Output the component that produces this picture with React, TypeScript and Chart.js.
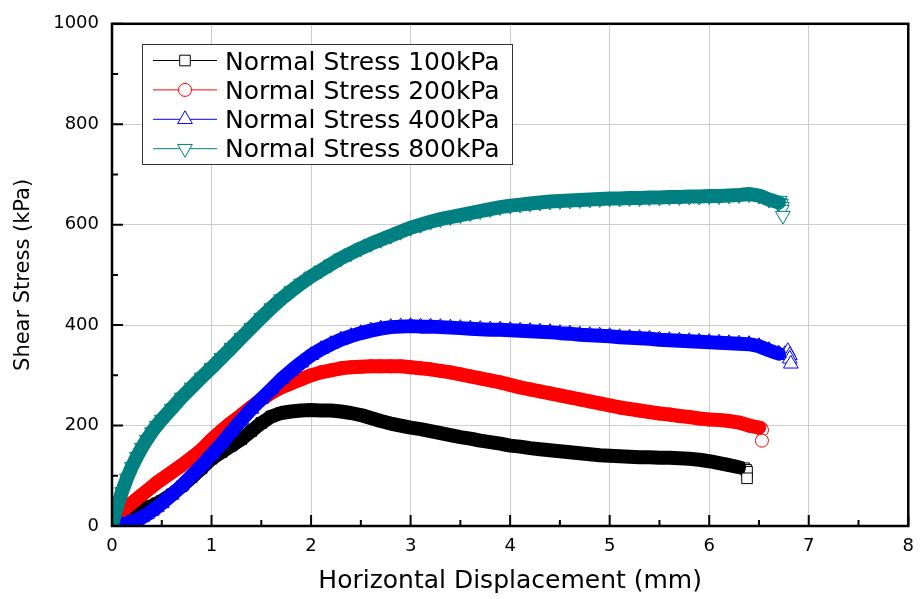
import React, { useEffect, useRef } from 'react';
import { Chart, registerables } from 'chart.js';

Chart.register(...registerables);

// ---------------- data ----------------
const DISPLACEMENT = [0, 0.05, 0.1, 0.15, 0.2, 0.25, 0.3, 0.35, 0.4, 0.45, 0.5,
  0.6, 0.7, 0.8, 0.9, 1.0, 1.1, 1.2, 1.3, 1.4, 1.5, 1.6, 1.7, 1.8, 1.9, 2.0,
  2.1, 2.2, 2.3, 2.4, 2.5, 2.6, 2.7, 2.8, 2.9, 3.0,
  3.1, 3.2, 3.3, 3.4, 3.5, 3.6, 3.7, 3.8, 3.9, 4.0,
  4.1, 4.2, 4.3, 4.4, 4.5, 4.6, 4.7, 4.8, 4.9, 5.0,
  5.1, 5.2, 5.3, 5.4, 5.5, 5.6, 5.7, 5.8, 5.9, 6.0,
  6.1, 6.2, 6.3, 6.4, 6.5, 6.6, 6.7];

const SHEAR_100 = [null, null, 25, 28, 30, 32, 34, 37, 40, 45, 50,
  63, 79, 97, 115, 134, 147, 160, 173, 189, 205, 218, 225, 228, 230, 231,
  230, 230, 228, 225, 221, 215, 209, 204, 200, 196,
  193, 189, 185, 181, 177, 174, 170, 167, 164, 160,
  158, 155, 153, 151, 149, 147, 145, 143, 141, 140,
  139, 138, 137, 137, 136, 136, 135, 134, 132, 129,
  125, 121, 117, null, null, null, null];
const END_100_X = [6.35, 6.37, 6.38, 6.38];
const END_100_Y = [115, 112, 108, 95];

const SHEAR_200 = [null, null, 28, 38, 46, 54, 62, 70, 78, 86, 93,
  107, 121, 136, 152, 172, 190, 206, 221, 237, 252, 265, 276, 284, 292, 300,
  306, 310, 314, 316, 317, 318, 318, 318, 318, 316,
  314, 312, 309, 306, 302, 298, 294, 290, 286, 281,
  276, 272, 268, 264, 260, 256, 252, 248, 244, 240,
  236, 233, 230, 227, 224, 222, 219, 217, 214, 212,
  211, 209, 206, 200, 196, null, null];
const END_200_X = [6.52, 6.53, 6.53];
const END_200_Y = [195, 191, 170];

const SHEAR_400 = [null, 0, 2, 5, 8, 12, 17, 23, 30, 37, 45,
  62, 80, 100, 120, 142, 164, 188, 211, 233, 253, 272, 292, 309, 325, 340,
  352, 362, 371, 378, 384, 389, 393, 396, 397, 398,
  397, 397, 396, 395, 394, 393, 392, 391, 391, 390,
  389, 388, 387, 386, 384, 383, 381, 380, 379, 378,
  376, 375, 374, 373, 371, 370, 369, 368, 367, 366,
  365, 364, 363, 362, 358, 350, 343];
const END_400_X = [6.76, 6.79, 6.81, 6.81, 6.82];
const END_400_Y = [342, 348, 340, 333, 323];

const SHEAR_800 = [3, 38, 68, 95, 118, 138, 156, 172, 187, 200, 212,
  234, 256, 276, 296, 315, 335, 355, 375, 395, 415, 434, 452, 468, 483, 497,
  509, 521, 533, 543, 553, 562, 570, 578, 586, 594,
  600, 606, 611, 615, 619, 623, 627, 631, 635, 638,
  640, 642, 644, 646, 647, 648, 649, 650, 651, 652,
  652, 653, 653, 654, 654, 655, 655, 656, 656, 657,
  657, 658, 659, 661, 658, 650, 644];
const END_800_X = [6.71, 6.72, 6.73, 6.73, 6.74];
const END_800_Y = [648, 642, 636, 630, 618];

const SERIES_LABELS = ['Normal Stress 100kPa', 'Normal Stress 200kPa', 'Normal Stress 400kPa', 'Normal Stress 800kPa'];
const X_TICKS = [0, 1, 2, 3, 4, 5, 6, 7, 8];
const X_MINOR = [0.5, 1.5, 2.5, 3.5, 4.5, 5.5, 6.5, 7.5];
const Y_TICKS = [0, 200, 400, 600, 800, 1000];
const Y_MINOR = [100, 300, 500, 700, 900];
const X_TITLE = 'Horizontal Displacement (mm)';
const Y_TITLE = 'Shear Stress (kPa)';

// ---------------- styles ----------------
const FONT = '"DejaVu Sans", "Liberation Sans", sans-serif';
const COLORS = ['#000000', '#ff0000', '#0000ff', '#008080'];
const STYLES = ['rect', 'circle', 'triangle', 'triangle'];
const ROTATIONS = [0, 0, 0, 180];
const RADII = [7.5, 6.5, 8.5, 8.5];
const DRAW_ORDER = [3, 2, 1, 0];

function toPoints(xs: number[], ys: (number | null)[]) {
  const pts: { x: number; y: number }[] = [];
  xs.forEach((x, i) => {
    const y = ys[i];
    if (y !== null && y !== undefined) pts.push({ x, y });
  });
  return pts;
}

function drawMarker(ctx: CanvasRenderingContext2D, style: string, rot: number, x: number, y: number, r: number, color: string) {
  ctx.save();
  ctx.fillStyle = '#ffffff';
  ctx.strokeStyle = color;
  ctx.lineWidth = 1;
  ctx.beginPath();
  if (style === 'rect') {
    const s = r * Math.SQRT1_2;
    ctx.rect(x - s, y - s, 2 * s, 2 * s);
  } else if (style === 'circle') {
    ctx.arc(x, y, r, 0, Math.PI * 2);
  } else {
    let a = (rot * Math.PI) / 180;
    ctx.moveTo(x + Math.sin(a) * r, y - Math.cos(a) * r);
    a += (2 * Math.PI) / 3;
    ctx.lineTo(x + Math.sin(a) * r, y - Math.cos(a) * r);
    a += (2 * Math.PI) / 3;
    ctx.lineTo(x + Math.sin(a) * r, y - Math.cos(a) * r);
    ctx.closePath();
  }
  ctx.fill();
  ctx.stroke();
  ctx.restore();
}

const legendPlugin = {
  id: 'boxLegend',
  afterDatasetsDraw(chart: any) {
    const { ctx, chartArea } = chart;
    const left = Math.round(chartArea.left + 30);
    const top = Math.round(chartArea.top + 20);
    const w = 370;
    const h = 120;
    ctx.save();
    ctx.fillStyle = '#ffffff';
    ctx.fillRect(left, top, w, h);
    ctx.strokeStyle = '#333333';
    ctx.lineWidth = 1;
    ctx.strokeRect(left + 0.5, top + 0.5, w, h);
    SERIES_LABELS.forEach((label, i) => {
      const ly = top + 16.5 + i * 29.4;
      ctx.strokeStyle = COLORS[i];
      ctx.lineWidth = 1;
      ctx.beginPath();
      ctx.moveTo(left + 11, ly);
      ctx.lineTo(left + 75, ly);
      ctx.stroke();
      drawMarker(ctx, STYLES[i], ROTATIONS[i], left + 43, ly, RADII[i], COLORS[i]);
      ctx.fillStyle = '#000000';
      ctx.font = '25px ' + FONT;
      ctx.textBaseline = 'alphabetic';
      ctx.textAlign = 'left';
      ctx.fillText(label, left + 83, top + 25.7 + i * 29.2);
    });
    ctx.restore();
  },
};

const framePlugin = {
  id: 'frameTicks',
  afterDraw(chart: any) {
    const { ctx, chartArea: a, scales } = chart;
    const xs = scales.x;
    const ys = scales.y;
    ctx.save();
    ctx.strokeStyle = '#000000';
    ctx.lineWidth = 2;
    ctx.beginPath();
    X_TICKS.forEach((v) => {
      const px = xs.getPixelForValue(v);
      ctx.moveTo(px, a.bottom);
      ctx.lineTo(px, a.bottom - 11);
    });
    X_MINOR.forEach((v) => {
      const px = xs.getPixelForValue(v);
      ctx.moveTo(px, a.bottom);
      ctx.lineTo(px, a.bottom - 6);
    });
    Y_TICKS.forEach((v) => {
      const py = ys.getPixelForValue(v);
      ctx.moveTo(a.left, py);
      ctx.lineTo(a.left + 11, py);
    });
    Y_MINOR.forEach((v) => {
      const py = ys.getPixelForValue(v);
      ctx.moveTo(a.left, py);
      ctx.lineTo(a.left + 6, py);
    });
    ctx.stroke();
    ctx.lineWidth = 2.5;
    ctx.strokeRect(a.left, a.top, a.right - a.left, a.bottom - a.top);
    ctx.restore();
  },
};

export default function App() {
  const canvasRef = useRef<HTMLCanvasElement | null>(null);

  useEffect(() => {
    const canvas = canvasRef.current;
    if (!canvas) return;
    Chart.defaults.font.family = FONT;

    const series = [
      { ys: SHEAR_100, ex: END_100_X, ey: END_100_Y },
      { ys: SHEAR_200, ex: END_200_X, ey: END_200_Y },
      { ys: SHEAR_400, ex: END_400_X, ey: END_400_Y },
      { ys: SHEAR_800, ex: END_800_X, ey: END_800_Y },
    ];

    const datasets: any[] = [];
    series.forEach((s, i) => {
      datasets.push({
        label: SERIES_LABELS[i],
        data: toPoints(DISPLACEMENT, s.ys),
        showLine: true,
        borderColor: COLORS[i],
        backgroundColor: COLORS[i],
        borderWidth: 14,
        borderJoinStyle: 'round',
        borderCapStyle: 'round',
        tension: 0,
        pointStyle: STYLES[i],
        pointRotation: ROTATIONS[i],
        pointRadius: RADII[i],
        pointBorderColor: COLORS[i],
        pointBackgroundColor: 'rgba(255,255,255,0)',
        pointBorderWidth: 1,
        order: DRAW_ORDER[i],
      });
      datasets.push({
        label: SERIES_LABELS[i] + ' end',
        data: toPoints(s.ex, s.ey),
        showLine: false,
        pointStyle: STYLES[i],
        pointRotation: ROTATIONS[i],
        pointRadius: RADII[i],
        pointBorderColor: COLORS[i],
        pointBackgroundColor: '#ffffff',
        pointBorderWidth: 1,
        order: DRAW_ORDER[i],
      });
    });

    const chart = new Chart(canvas, {
      type: 'scatter',
      data: { datasets },
      options: {
        responsive: false,
        devicePixelRatio: 1,
        animation: false,
        layout: { padding: { top: 17, right: 10, left: 0, bottom: 0 } },
        plugins: {
          legend: { display: false },
          tooltip: { enabled: false },
        },
        scales: {
          x: {
            type: 'linear',
            min: 0,
            max: 8,
            afterBuildTicks: (scale: any) => {
              scale.ticks = X_TICKS.map((v) => ({ value: v }));
            },
            afterFit: (scale: any) => {
              scale.height = 73;
            },
            border: { display: false },
            grid: { color: '#cccccc', lineWidth: 1, drawTicks: false },
            ticks: {
              color: '#000000',
              padding: 10,
              font: { size: 18, family: FONT },
              maxRotation: 0,
              callback: (v: any) => String(v),
            },
            title: {
              display: true,
              text: X_TITLE,
              color: '#000000',
              font: { size: 25, family: FONT },
              padding: { top: 0, bottom: 3 },
            },
          },
          y: {
            type: 'linear',
            min: 0,
            max: 1000,
            afterBuildTicks: (scale: any) => {
              scale.ticks = Y_TICKS.map((v) => ({ value: v }));
            },
            afterFit: (scale: any) => {
              scale.width = 112;
            },
            border: { display: false },
            grid: { color: '#cccccc', lineWidth: 1, drawTicks: false },
            ticks: {
              color: '#000000',
              padding: 13,
              font: { size: 18, family: FONT },
              callback: (v: any) => String(v),
            },
            title: {
              display: true,
              text: Y_TITLE,
              color: '#000000',
              font: { size: 21, family: FONT },
              padding: { top: 10.5, bottom: 0 },
            },
          },
        },
      },
      plugins: [legendPlugin, framePlugin],
    });

    return () => {
      chart.destroy();
    };
  }, []);

  return (
    <div style={{ position: 'absolute', left: 0, top: 0, width: 924, height: 599, background: '#ffffff' }}>
      <canvas ref={canvasRef} width={924} height={599} style={{ display: 'block', width: 924, height: 599 }} />
    </div>
  );
}
